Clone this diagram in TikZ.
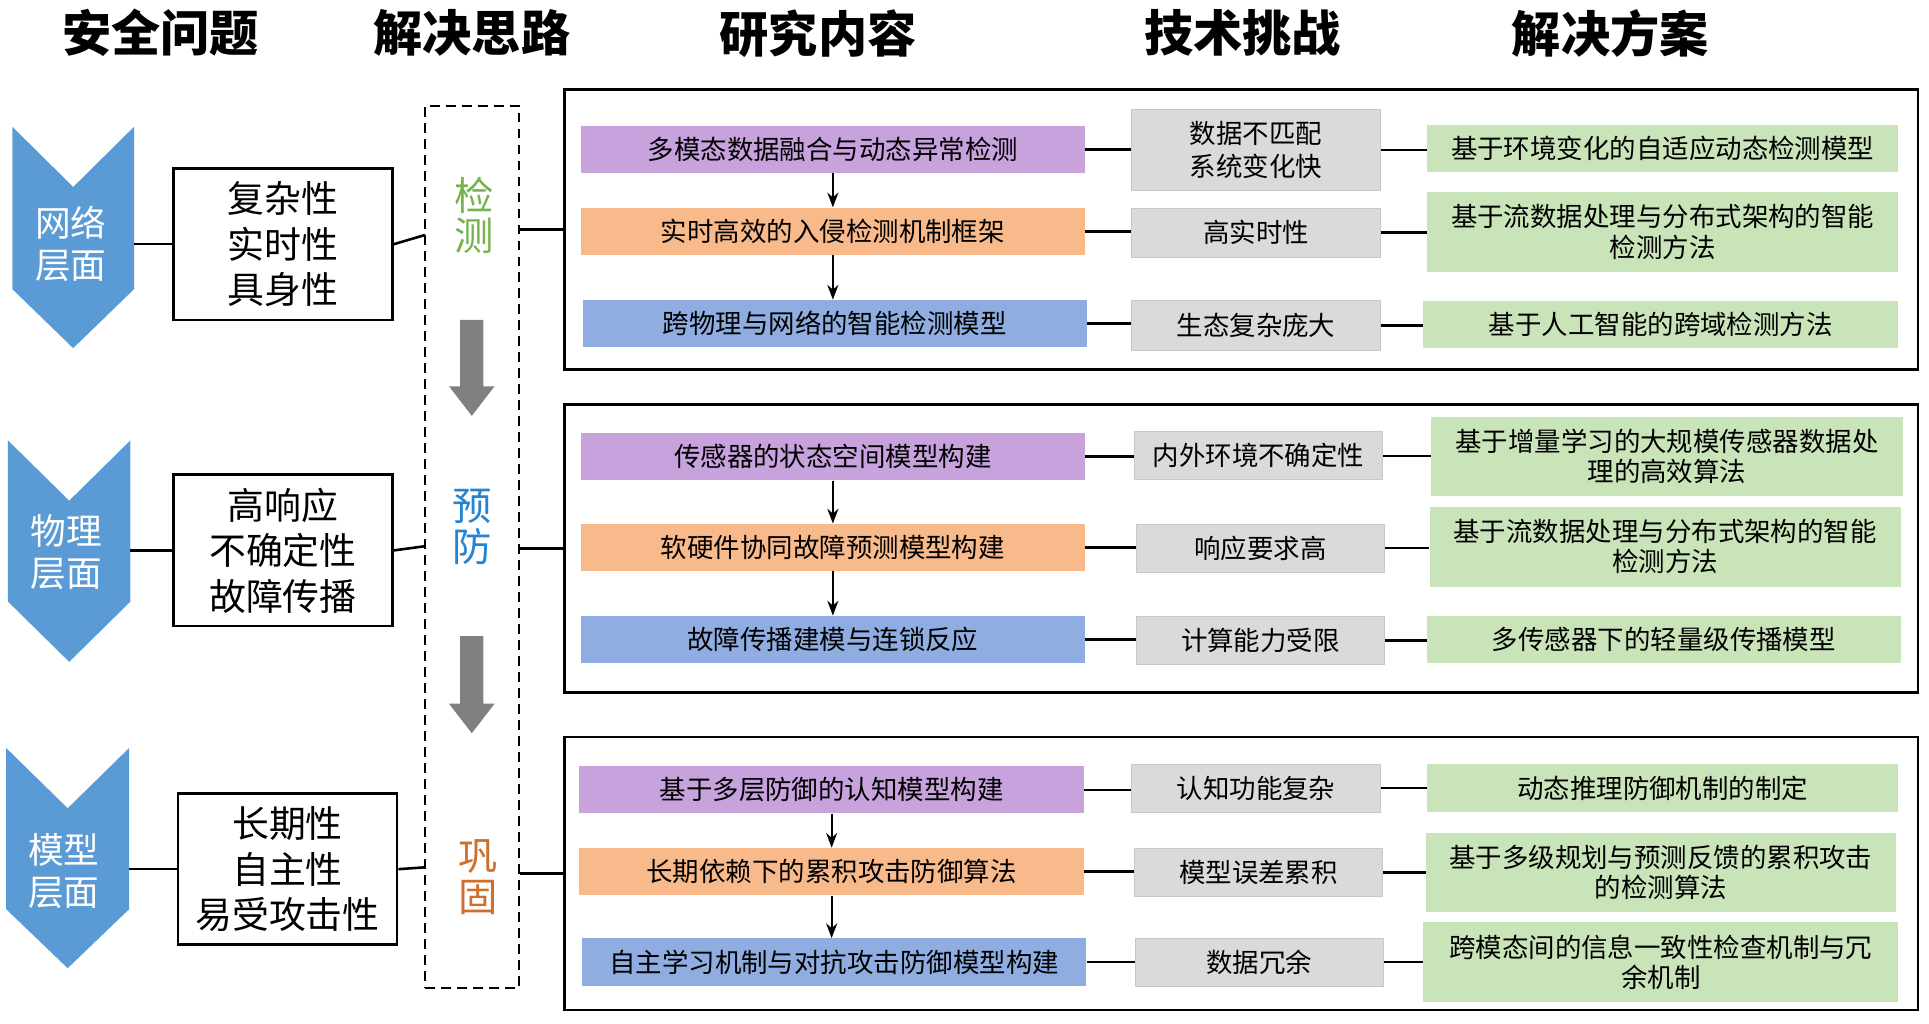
\documentclass[tikz,border=0pt]{standalone}
\usepackage{fontspec}
\setmainfont{Noto Sans CJK SC}
\usetikzlibrary{arrows.meta}
\definecolor{chevblue}{RGB}{91,155,213}
\definecolor{respurple}{RGB}{199,162,221}
\definecolor{resorange}{RGB}{248,185,139}
\definecolor{resblue}{RGB}{143,173,224}
\definecolor{chalgray}{RGB}{218,218,218}
\definecolor{chalborder}{RGB}{200,200,200}
\definecolor{solgreen}{RGB}{202,228,186}
\definecolor{txtgreen}{RGB}{118,178,76}
\definecolor{txtblue}{RGB}{36,132,212}
\definecolor{txtorange}{RGB}{204,112,44}
\definecolor{arrowgray}{RGB}{128,128,128}
\begin{document}
\begin{tikzpicture}[x=1pt,y=-1pt,
  basebox/.style={rectangle, inner sep=0pt, align=center, font=\fontsize{21.5}{24.5}\selectfont},
  resbox/.style={basebox, minimum width=410, minimum height=38.5},
  chalbox/.style={basebox, fill=chalgray, draw=chalborder, line width=0.6pt, minimum width=202},
  solbox/.style={basebox, fill=solgreen, minimum width=384},
  propbox/.style={rectangle, draw, line width=2.2pt, fill=white, minimum width=178, minimum height=123, inner sep=0pt, align=center, font=\fontsize{30}{37}\selectfont},
  secbox/.style={rectangle, draw, line width=2.2pt, minimum width=1100, inner sep=0pt},
  chevtext/.style={text=white, align=center, inner sep=0pt, font=\fontsize{29}{34}\selectfont},
  midtext/.style={align=center, inner sep=0pt, font=\fontsize{32}{33}\selectfont},
  titletext/.style={inner sep=0pt, font=\fontsize{40}{44}\selectfont\bfseries},
  link/.style={line width=2.1pt},
  downarrow/.style={line width=1.5pt, -{Stealth[length=12pt,width=9pt]}}
]
\useasboundingbox (0,0) rectangle (1568,832);
\fill[white] (0,0) rectangle (1568,832);

% titles
\node[titletext] (h1) at (130.5,27) {安全问题};
\node[titletext] (h2) at (383.5,27) {解决思路};
\node[titletext] (h3) at (665,27) {研究内容};
\node[titletext] (h4) at (1010,27) {技术挑战};
\node[titletext] (h5) at (1309,27) {解决方案};

% chevrons
\fill[chevblue] (10,103) -- (59.5,152) -- (109,103) -- (109,235) -- (59.5,283) -- (10,235) -- cycle;
\fill[chevblue] (6.5,358) -- (56.25,407) -- (106,358) -- (106,489) -- (56.25,538) -- (6.5,489) -- cycle;
\fill[chevblue] (5,608) -- (55,657) -- (105,608) -- (105,739) -- (55,787) -- (5,739) -- cycle;
\node[chevtext] (v1) at (57.5,198.5) {网络\\层面};
\node[chevtext] (v2) at (54,449) {物理\\层面};
\node[chevtext] (v3) at (52,708) {模型\\层面};
\coordinate (v1e) at (109,198.5);
\coordinate (v2e) at (106,447.4);
\coordinate (v3e) at (105,706.5);

% property boxes
\node[propbox] (p1) at (230,198.5) {复杂性\\实时性\\具身性};
\node[propbox] (p2) at (230,447.4) {高响应\\不确定性\\故障传播};
\node[propbox] (p3) at (233.7,706.5) {长期性\\自主性\\易受攻击性};
\draw[link] (v1e) -- (p1.west);
\draw[link] (v2e) -- (p2.west);
\draw[link] (v3e) -- (p3.west);

% dashed box
\node[rectangle, draw, dash pattern=on 8pt off 5pt, line width=2pt, minimum width=76.5, minimum height=717, inner sep=0pt] (dbox) at (383.75,444.5) {};
\node[midtext, text=txtgreen] (m1) at (385.6,175) {检\\测};
\node[midtext, text=txtblue] (m2) at (384,428.5) {预\\防};
\node[midtext, text=txtorange] (m3) at (388.5,713) {巩\\固};
\coordinate (d1) at (345.5,191);
\coordinate (d2) at (345.5,444);
\coordinate (d3) at (345.5,705);
\draw[link] (p1.east) -- (d1);
\draw[link] (p2.east) -- (d2);
\draw[link] (p3.east) -- (d3);

% gray arrows
\fill[arrowgray] (374,260) -- (393,260) -- (393,314) -- (402,314) -- (383.5,338) -- (365,314) -- (374,314) -- cycle;
\fill[arrowgray] (374,517) -- (393,517) -- (393,572) -- (402,572) -- (383.5,596) -- (365,572) -- (374,572) -- cycle;

% section boxes
\node[secbox, minimum height=228] (sec1) at (1009,186.5) {};
\node[secbox, minimum height=234] (sec2) at (1009,446) {};
\node[secbox, minimum height=222] (sec3) at (1009,710) {};
\draw[link] (dbox.east |- sec1.west) -- (sec1.west);
\draw[link] (dbox.east |- sec2.west) -- (sec2.west);
\draw[link] (dbox.east |- sec3.west) -- (sec3.west);

% section 1
\node[resbox, fill=respurple] (r11) at (677,121.5) {多模态数据融合与动态异常检测};
\node[resbox, fill=resorange] (r12) at (677,188) {实时高效的入侵检测机制框架};
\node[resbox, fill=resblue] (r13) at (678.5,263) {跨物理与网络的智能检测模型};
\node[chalbox, minimum height=66, font=\fontsize{21.5}{27}\selectfont] (c11) at (1021,122) {数据不匹配\\系统变化快};
\node[chalbox, minimum height=40] (c12) at (1021,189) {高实时性};
\node[chalbox, minimum height=41] (c13) at (1021,264.5) {生态复杂庞大};
\node[solbox, minimum width=383, minimum height=38] (s11) at (1351.5,121) {基于环境变化的自适应动态检测模型};
\node[solbox, minimum width=383, minimum height=65] (s12) at (1351.5,188.5) {基于流数据处理与分布式架构的智能\\检测方法};
\node[solbox, minimum width=386, minimum height=38] (s13) at (1350,264) {基于人工智能的跨域检测方法};

% section 2
\node[resbox, fill=respurple] (r21) at (677,371.3) {传感器的状态空间模型构建};
\node[resbox, fill=resorange] (r22) at (677,445) {软硬件协同故障预测模型构建};
\node[resbox, fill=resblue] (r23) at (677,519.8) {故障传播建模与连锁反应};
\node[chalbox, minimum height=39] (c21) at (1023,370.5) {内外环境不确定性};
\node[chalbox, minimum height=39] (c22) at (1024.5,445.5) {响应要求高};
\node[chalbox, minimum height=39] (c23) at (1024.5,520.5) {计算能力受限};
\node[solbox, minimum height=64] (s21) at (1355,371) {基于增量学习的大规模传感器数据处\\理的高效算法};
\node[solbox, minimum width=383, minimum height=65] (s22) at (1353.5,444.5) {基于流数据处理与分布式架构的智能\\检测方法};
\node[solbox, minimum width=385, minimum height=38] (s23) at (1352.5,520) {多传感器下的轻量级传播模型};

% section 3
\node[resbox, fill=respurple] (r31) at (676,642) {基于多层防御的认知模型构建};
\node[resbox, fill=resorange] (r32) at (676,708.5) {长期依赖下的累积攻击防御算法};
\node[resbox, fill=resblue] (r33) at (678,782) {自主学习机制与对抗攻击防御模型构建};
\node[chalbox, minimum height=39] (c31) at (1021,640.5) {认知功能复杂};
\node[chalbox, minimum height=39] (c32) at (1023,709) {模型误差累积};
\node[chalbox, minimum height=39] (c33) at (1023.5,782) {数据冗余};
\node[solbox, minimum width=383, minimum height=39] (s31) at (1351.5,640.5) {动态推理防御机制的制定};
\node[solbox, minimum width=382, minimum height=64.5] (s32) at (1350,709) {基于多级规划与预测反馈的累积攻击\\的检测算法};
\node[solbox, minimum width=386, minimum height=64.5] (s33) at (1350,782) {跨模态间的信息一致性检查机制与冗\\余机制};

% vertical arrows
\draw[downarrow] (r11.south) -- (r12.north);
\draw[downarrow] (r12.south) -- (r13.north -| r12.south);
\draw[downarrow] (r21.south) -- (r22.north);
\draw[downarrow] (r22.south) -- (r23.north);
\draw[downarrow] (r31.south) -- (r32.north);
\draw[downarrow] (r32.south) -- (r33.north -| r32.south);

% horizontal links
\foreach \i in {11,12,13,21,22,23,31,32,33}{
  \draw[link] (r\i.east) -- (c\i.west |- r\i.east);
  \draw[link] (c\i.east) -- (s\i.west |- c\i.east);
}
\end{tikzpicture}
\end{document}
